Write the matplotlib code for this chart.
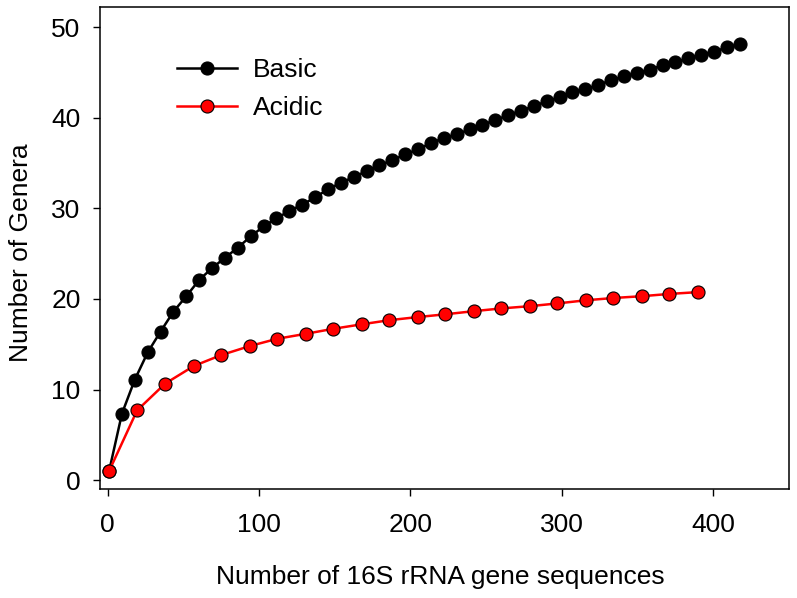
import matplotlib

matplotlib.use("Agg")
import matplotlib.pyplot as plt

plt.rcParams["font.family"] = ["Liberation Sans", "DejaVu Sans"]

# rarefaction data
basic_x = [1, 9.5, 18, 26.5, 35, 43.5, 52, 60.5, 69, 77.5,
           86, 94.5, 103, 111.5, 120, 128.5, 137, 145.5, 154, 162.5,
           171, 179.5, 188, 196.5, 205, 213.5, 222, 230.5, 239, 247.5,
           256, 264.5, 273, 281.5, 290, 298.5, 307, 315.5, 324, 332.5,
           341, 349.5, 358, 366.5, 375, 383.5, 392, 400.5, 409, 417.5]
basic_y = [1.0, 7.35, 11.1, 14.1, 16.4, 18.6, 20.3, 22.1, 23.4, 24.55,
           25.65, 26.9, 28.0, 28.9, 29.7, 30.4, 31.2, 32.1, 32.8, 33.45,
           34.1, 34.75, 35.3, 35.95, 36.5, 37.2, 37.75, 38.15, 38.7, 39.25,
           39.7, 40.3, 40.75, 41.3, 41.8, 42.25, 42.85, 43.15, 43.6, 44.15,
           44.55, 44.9, 45.3, 45.8, 46.1, 46.55, 46.95, 47.3, 47.75, 48.1]

acidic_x = [1, 19.5, 38, 57, 75, 94, 112, 131, 149, 168, 186,
            205, 223, 242, 260, 279, 297, 316, 334, 353, 371, 390]
acidic_y = [1.0, 7.7, 10.65, 12.6, 13.8, 14.8, 15.6, 16.15, 16.7, 17.2, 17.65,
            18.0, 18.3, 18.65, 18.95, 19.2, 19.5, 19.85, 20.1, 20.3, 20.55, 20.75]

fig = plt.figure(figsize=(7.97, 5.98), dpi=100)
ax = fig.add_axes([0.1255, 0.182, 0.8645, 0.806])

ax.plot(basic_x, basic_y, color="black", linewidth=1.8, marker="o",
        markersize=9.4, markerfacecolor="black", markeredgecolor="black",
        markeredgewidth=0.8, label="Basic", zorder=3)
ax.plot(acidic_x, acidic_y, color="#ff0000", linewidth=1.8, marker="o",
        markersize=9.4, markerfacecolor="#ff0000", markeredgecolor="black",
        markeredgewidth=0.8, label="Acidic", zorder=3)

ax.set_xlim(-5, 450)
ax.set_ylim(-1, 52.2)
ax.set_xticks([0, 100, 200, 300, 400])
ax.set_yticks([0, 10, 20, 30, 40, 50])
ax.tick_params(axis="both", direction="out", length=5, width=1.0,
               labelsize=19, top=False, right=False)
ax.tick_params(axis="x", pad=12)
ax.tick_params(axis="y", pad=9)
for sp in ax.spines.values():
    sp.set_linewidth(1.1)

ax.set_xlabel("Number of 16S rRNA gene sequences", fontsize=19, va="center")
ax.xaxis.set_label_coords(0.4935, -0.183)
ax.set_ylabel("Number of Genera", fontsize=19, va="center")
ax.yaxis.set_label_coords(-0.114, 0.49)

ax.legend(loc="upper left", bbox_to_anchor=(0.112, 0.895), frameon=False,
          fontsize=19, handlelength=2.27, handletextpad=0.6, labelspacing=0.55,
          borderpad=0, borderaxespad=0)

fig.savefig("out.png", dpi=100)
plt.close(fig)
